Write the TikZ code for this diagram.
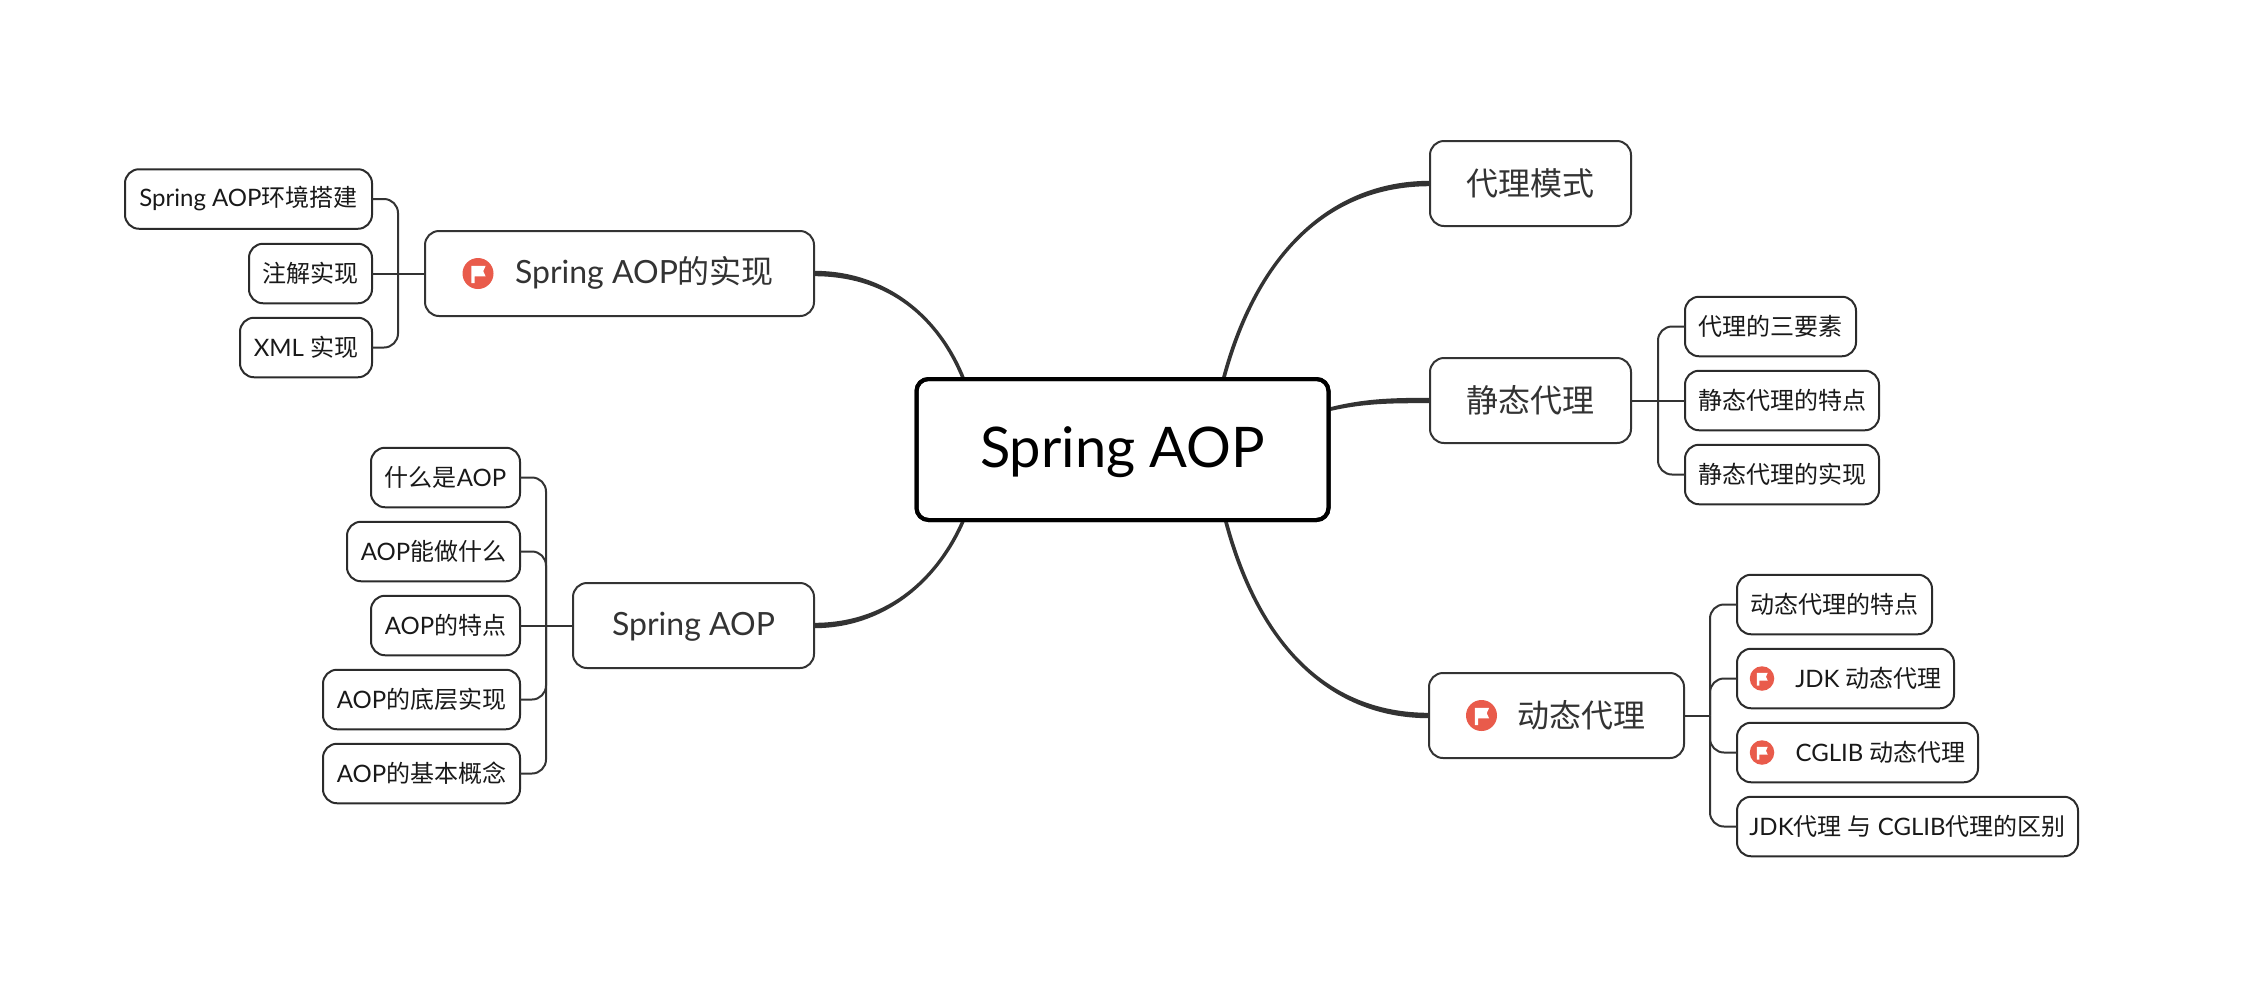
\documentclass[tikz,border=0pt]{standalone}
\usepackage{fontspec}
\setmainfont{Lato}
\newfontfamily\cjk{Noto Sans CJK SC}
\newcommand\zh[1]{{\cjk #1}}
\definecolor{ink}{HTML}{333333}
\definecolor{flagred}{HTML}{E95B4B}
\usetikzlibrary{calc}
\tikzset{
  sz/.style 2 args={minimum width=#1*0.5pt,minimum height=#2*0.5pt},
  rootbox/.style={draw=black,line width=2pt,rounded corners=6pt,fill=white,text=black,font=\fontsize{28}{33}\selectfont,inner sep=0pt,outer sep=0pt,text height=0pt,text depth=0pt},
  topicbox/.style={draw=ink,line width=1pt,rounded corners=7pt,fill=white,text=ink,font=\fontsize{16}{19}\selectfont,inner sep=0pt,outer sep=0pt},
  lowtopic/.style={topicbox,text height=0pt,text depth=0pt},
  leafbox/.style={draw=ink!85!black,line width=1pt,rounded corners=7pt,fill=white,text=black!90,font=\fontsize{12}{15}\selectfont,inner sep=0pt,outer sep=0pt},
  branch/.style={draw=ink,line width=1pt,rounded corners=7pt},
  stem/.style={draw=ink,line width=1pt},
  flagdot/.style={circle,fill=flagred,inner sep=0pt,outer sep=0pt},
  taper/.style={fill=ink,draw=none}
}
% tapered main branch: #1 thin end at root, #2,#3 controls, #4 thick end at topic, #5 sideways vector at the root end
\newcommand\mainbranch[5]{%
  \fill[taper] ($(#1)+(#5)$) .. controls ($(#2)+1.2*(#5)$) and ($(#3)+(0,-2.7)$) .. ($(#4)+(0,-2.7)$)
   -- ($(#4)+(0,2.7)$) .. controls ($(#3)+(0,2.7)$) and ($(#2)-1.2*(#5)$) .. ($(#1)-1*(#5)$) -- cycle;}
% white flag on a red dot, #1 dot name, #2 scale
\newcommand\flagmark[2]{%
  \fill[white,shift={(#1.center)},scale=#2] (-7,-8) -- (8,-8) -- (5.5,-2.5) -- (8,3) -- (-3.5,3) -- (-3.5,10) -- (-7,10) -- cycle;}
\begin{document}
\begin{tikzpicture}[x=0.5pt,y=-0.5pt]
\useasboundingbox (0,0) rectangle (2244,998);

\node[rootbox,sz={412}{141}] (root) at (1122.5,449.5) {\raisebox{-8.75pt}{Spring AOP}};

% topics
\node[lowtopic,sz={389}{85}] (impl) at (619.5,273.5) {\hspace{25pt}\raisebox{-5pt}{Spring AOP\zh{的实现}}};
\node[lowtopic,sz={241}{85}] (aop) at (693.5,625.5) {\raisebox{-5pt}{Spring AOP}};
\node[topicbox,sz={201}{85}] (mode) at (1530.5,183.5) {\zh{代理模式}};
\node[topicbox,sz={201}{85}] (static) at (1530.5,400.5) {\zh{静态代理}};
\node[topicbox,sz={255}{85}] (dyn) at (1556.5,715.5) {\hspace{25pt}\zh{动态代理}};

% leaves of impl
\node[leafbox,sz={247}{59.5}] (i1) at (248.5,199) {Spring AOP\zh{环境搭建}};
\node[leafbox,sz={123}{59.5}] (i2) at (310.5,273.5) {\zh{注解实现}};
\node[leafbox,sz={132}{59.5}] (i3) at (306,347.5) {XML \zh{实现}};

% leaves of aop
\node[leafbox,sz={149}{59.5}] (a1) at (445.5,477.5) {\zh{什么是}AOP};
\node[leafbox,sz={173}{59.5}] (a2) at (433.5,551.5) {AOP\zh{能做什么}};
\node[leafbox,sz={149}{59.5}] (a3) at (445.5,625.5) {AOP\zh{的特点}};
\node[leafbox,sz={197}{59.5}] (a4) at (421.5,699.5) {AOP\zh{的底层实现}};
\node[leafbox,sz={197}{59.5}] (a5) at (421.5,773.5) {AOP\zh{的基本概念}};

% leaves of static
\node[leafbox,sz={171}{59.5}] (s1) at (1770.5,326.5) {\zh{代理的三要素}};
\node[leafbox,sz={194}{59.5}] (s2) at (1782,400.5) {\zh{静态代理的特点}};
\node[leafbox,sz={194}{59.5}] (s3) at (1782,474.5) {\zh{静态代理的实现}};

% leaves of dyn
\node[leafbox,sz={195}{59.5}] (d1) at (1834.5,604.5) {\zh{动态代理的特点}};
\node[leafbox,sz={217}{59.5}] (d2) at (1845.5,678.5) {\hspace{23pt}JDK \zh{动态代理}};
\node[leafbox,sz={241}{59.5}] (d3) at (1857.5,752.5) {\hspace{23pt}CGLIB \zh{动态代理}};
\node[leafbox,sz={341}{59.5}] (d4) at (1907.5,826.5) {JDK\zh{代理} \zh{与} CGLIB\zh{代理的区别}};

% flags
\node[flagdot,minimum size=15.5pt] (fi) at (478,273.5) {}; \flagmark{fi}{0.95}
\node[flagdot,minimum size=15.5pt] (fd) at (1481.5,715.5) {}; \flagmark{fd}{0.95}
\node[flagdot,minimum size=12.25pt] (f2) at (1762,678.5) {}; \flagmark{f2}{0.72}
\node[flagdot,minimum size=12.25pt] (f3) at (1762,752.5) {}; \flagmark{f3}{0.72}

% main branches
\coordinate (rtl) at ($(root.north west)+(47,0)$);
\coordinate (rbl) at ($(root.south west)+(47,0)$);
\coordinate (rtr) at ($(root.north west)+(307,0)$);
\coordinate (rbr) at ($(root.south west)+(309,0)$);
\coordinate (rr) at ($(root.east)+(0,-40)$);
\mainbranch{rtl}{940,320}{890,273.5}{impl.east}{1.9,0}
\mainbranch{rbl}{940,575}{890,625.5}{aop.east}{-1.9,0}
\mainbranch{rtr}{1255,260}{1325,183.5}{mode.west}{-1.9,0}
\mainbranch{rr}{1365,400.5}{1395,400.5}{static.west}{0,-1.9}
\mainbranch{rbr}{1257,640}{1325,715.5}{dyn.west}{1.9,0}

% bus junctions
\coordinate (bi) at (398,273.5);
\coordinate (ba) at (546,625.5);
\coordinate (bs) at (1658,400.5);
\coordinate (bd) at (1710,715.5);

\draw[stem] (impl.west) -- (i2.east);
\draw[branch] (bi) |- (i1.east);
\draw[branch] (bi) |- (i3.east);

\draw[stem] (aop.west) -- (a3.east);
\draw[branch] (ba) |- (a1.east);
\draw[branch] (ba) |- (a2.east);
\draw[branch] (ba) |- (a4.east);
\draw[branch] (ba) |- (a5.east);

\draw[stem] (static.east) -- (s2.west);
\draw[branch] (bs) |- (s1.west);
\draw[branch] (bs) |- (s3.west);

\draw[stem] (dyn.east) -- (bd);
\draw[branch] (bd) |- (d1.west);
\draw[branch] (bd) |- (d2.west);
\draw[branch] (bd) |- (d3.west);
\draw[branch] (bd) |- (d4.west);

% keep root box above its branches
\draw[black,line width=2pt,rounded corners=6pt] (root.north west) rectangle (root.south east);
\end{tikzpicture}
\end{document}
